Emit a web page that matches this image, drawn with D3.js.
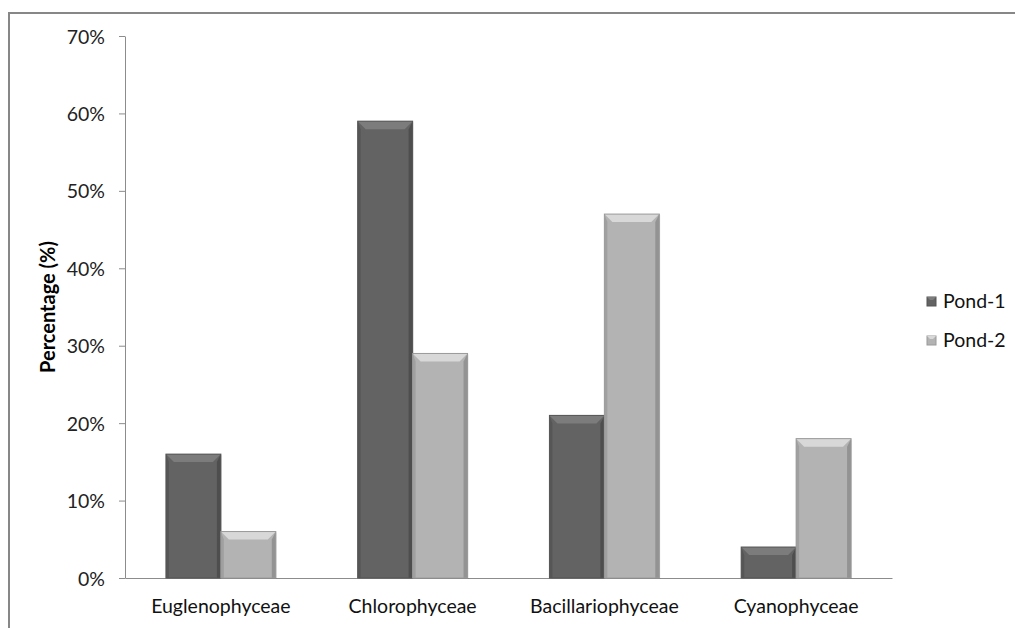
<!DOCTYPE html>
<html><head><meta charset="utf-8">
<script src="https://cdn.jsdelivr.net/npm/d3@7"></script>
<style>body{margin:0;background:#fff}svg{display:block}</style>
</head><body>
<script>
const categories = ["Euglenophyceae","Chlorophyceae","Bacillariophyceae","Cyanophyceae"];
const seriesNames = ["Pond-1","Pond-2"];
const pond1 = [16, 59, 21, 4];
const pond2 = [6, 29, 47, 18];
const yTicks = [0,10,20,30,40,50,60,70];

const W = 1015, H = 628;
const svg = d3.select("body").append("svg").attr("width", W).attr("height", H);
const font = "Lato, 'Open Sans', sans-serif";

// frame
svg.append("path").attr("d", `M9,${H} L9,13 L${W},13`).attr("fill","none").attr("stroke","#878787").attr("stroke-width",2);

const x0 = 125, x1 = 892, yTop = 36, yBot = 578;
const x = d3.scaleBand().domain(categories).range([x0, x1]).paddingInner(0.427).paddingOuter(0.2135);
const xs = d3.scaleBand().domain(seriesNames).range([0, x.bandwidth()]);
const y = d3.scaleLinear().domain([0, 70]).range([yBot, yTop]);

const colors = {"Pond-1": {base:"#636363", top:"#7c7c7c", side:"#4e4e4e", edge:"#555"},
                "Pond-2": {base:"#b3b3b3", top:"#d8d8d8", side:"#939393", edge:"#9a9a9a"}};

// y axis
const yAxis = d3.axisLeft(y).tickValues(yTicks).tickFormat(d => d + "%").tickSize(6).tickSizeOuter(0);
const gy = svg.append("g").attr("transform", `translate(${x0},0)`).call(yAxis);
gy.select(".domain").attr("stroke", "#8c8c8c");
gy.selectAll(".tick line").attr("stroke", "#8c8c8c");
gy.selectAll(".tick text").attr("font-family", font).attr("font-size", 19.5).attr("fill", "#222").attr("x", -20).attr("dy", "0.36em");

// x axis baseline
const xAxis = d3.axisBottom(x).tickSize(0).tickSizeOuter(0);
const gx = svg.append("g").attr("transform", `translate(0,${yBot})`).call(xAxis);
gx.select(".domain").attr("stroke", "#8c8c8c");
gx.selectAll(".tick text").attr("font-family", font).attr("font-size", 19.5).attr("fill", "#111").attr("dy", 0).attr("y", 35);

// bars
const data = [];
categories.forEach((c, i) => {
  data.push({cat: c, s: "Pond-1", v: pond1[i]});
  data.push({cat: c, s: "Pond-2", v: pond2[i]});
});
const bars = svg.append("g").selectAll("g").data(data).join("g");
bars.each(function(d) {
  const g = d3.select(this);
  const bx = x(d.cat) + xs(d.s), bw = xs.bandwidth();
  const by = y(d.v), bh = yBot - by;
  const c = colors[d.s];
  const b = Math.min(8, bh / 2);
  g.append("rect").attr("x", bx + 1).attr("y", by + 1).attr("width", bw).attr("height", bh).attr("fill", "#000").attr("opacity", 0.08);
  g.append("rect").attr("x", bx).attr("y", by).attr("width", bw).attr("height", bh).attr("fill", c.base);
  g.append("polygon").attr("points", `${bx},${by} ${bx+3},${by+b} ${bx+3},${yBot} ${bx},${yBot}`).attr("fill", c.side).attr("opacity", 0.6);
  g.append("polygon").attr("points", `${bx+bw},${by} ${bx+bw-4},${by+b} ${bx+bw-4},${yBot} ${bx+bw},${yBot}`).attr("fill", c.side);
  g.append("polygon").attr("points", `${bx},${by} ${bx+bw},${by} ${bx+bw-b},${by+b} ${bx+b},${by+b}`).attr("fill", c.top);
  g.append("rect").attr("x", bx).attr("y", by).attr("width", bw).attr("height", bh).attr("fill", "none").attr("stroke", c.edge).attr("stroke-width", 1);
});

// y label
svg.append("text").attr("transform", `translate(55,${(yTop+yBot)/2}) rotate(-90)`)
  .attr("text-anchor", "middle").attr("font-family", font).attr("font-size", 20).attr("font-weight", "bold").attr("fill", "#000")
  .text("Percentage (%)");

// legend
const leg = svg.append("g").selectAll("g").data(seriesNames).join("g")
  .attr("transform", (d, i) => `translate(927,${297 + i * 39})`);
leg.append("rect").attr("width", 9).attr("height", 9).attr("fill", d => colors[d].base).attr("stroke", d => colors[d].edge);
leg.append("polygon").attr("points", "0,0 9,0 6,3 3,3").attr("fill", d => colors[d].top);
leg.append("text").attr("x", 16).attr("y", 11).attr("font-family", font).attr("font-size", 19.5).attr("fill", "#111").text(d => d);
</script>
</body></html>
